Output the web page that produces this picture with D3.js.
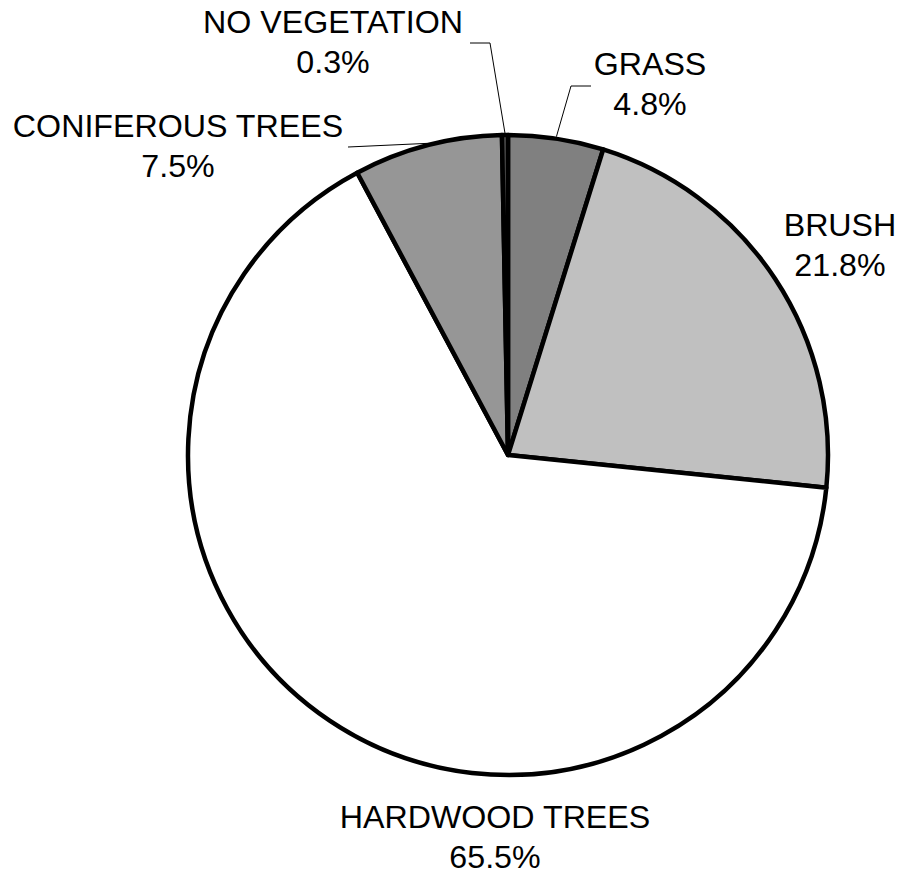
<!DOCTYPE html>
<html>
<head>
<meta charset="utf-8">
<script src="https://cdn.jsdelivr.net/npm/d3@7"></script>
<style>
  html, body { margin: 0; padding: 0; background: #fff; }
  svg { display: block; }
  text { font-family: "Liberation Sans", Arial, sans-serif; }
</style>
</head>
<body>
<svg id="chart" width="901" height="875"></svg>
<script>
// ---- data ----
const categories = ["GRASS", "BRUSH", "HARDWOOD TREES", "CONIFEROUS TREES", "NO VEGETATION"];
const values = [4.8, 21.8, 65.5, 7.5, 0.3];
const valueLabels = ["4.8%", "21.8%", "65.5%", "7.5%", "0.3%"];
const fills = ["#808080", "#c0c0c0", "#ffffff", "#969696", "#555555"];

// ---- layout (label anchors, leader elbows) ----
const W = 901, H = 875;
const cx = 508, cy = 455, R = 320;
const labelPos = [
  { x: 650, y: 75,  leader: [[571, 86], [591, 86]] },
  { x: 840, y: 236, leader: null },
  { x: 495, y: 828, leader: null },
  { x: 178, y: 137, leader: [[348, 147]] },
  { x: 333, y: 33,  leader: [[490, 43], [470, 43]] }
];

const svg = d3.select("#chart");
const g = svg.append("g").attr("transform", `translate(${cx},${cy})`);

const pie = d3.pie().sort(null).value(d => d.v).startAngle(0).endAngle(2 * Math.PI);
const data = categories.map((c, i) => ({ c, v: values[i], fill: fills[i], lab: valueLabels[i], pos: labelPos[i] }));
const arcs = pie(data);
const arc = d3.arc().innerRadius(0).outerRadius(R);

g.selectAll("path.slice")
  .data(arcs)
  .enter().append("path")
  .attr("class", "slice")
  .attr("d", arc)
  .attr("fill", d => d.data.fill)
  .attr("stroke", "#000")
  .attr("stroke-width", 4.5)
  .attr("stroke-linejoin", "round");

// leader lines
arcs.forEach(d => {
  const p = d.data.pos;
  if (!p.leader) return;
  const a = (d.startAngle + d.endAngle) / 2;
  const sx = cx + (R + 2) * Math.sin(a);
  const sy = cy - (R + 2) * Math.cos(a);
  const pts = [[sx, sy]].concat(p.leader);
  svg.append("path")
    .attr("d", d3.line()(pts))
    .attr("fill", "none")
    .attr("stroke", "#000")
    .attr("stroke-width", 1);
});

// labels
const lab = svg.selectAll("g.lab").data(arcs).enter().append("g").attr("class", "lab");
lab.append("text")
  .attr("x", d => d.data.pos.x)
  .attr("y", d => d.data.pos.y)
  .attr("text-anchor", "middle")
  .attr("font-size", "32.2px")
  .attr("fill", "#000")
  .text(d => d.data.c);
lab.append("text")
  .attr("x", d => d.data.pos.x)
  .attr("y", d => d.data.pos.y + 40)
  .attr("text-anchor", "middle")
  .attr("font-size", "32.2px")
  .attr("fill", "#000")
  .text(d => d.data.lab);
</script>
</body>
</html>
